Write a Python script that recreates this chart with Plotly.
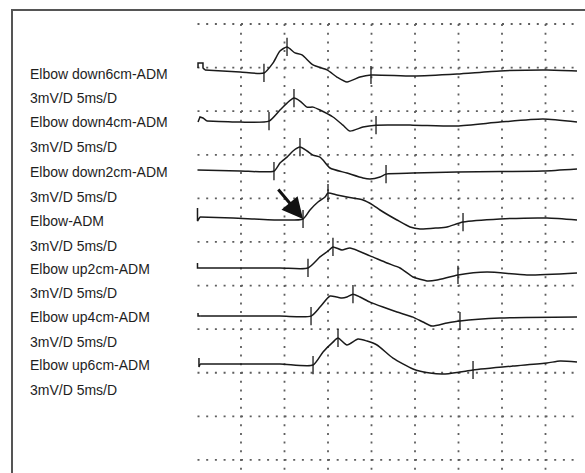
import plotly.graph_objects as go

# ---- data (time in ms, amplitude in mV relative to each trace's baseline) ----
labels = ["Elbow down6cm-ADM", "Elbow down4cm-ADM", "Elbow down2cm-ADM", "Elbow-ADM",
          "Elbow up2cm-ADM", "Elbow up4cm-ADM", "Elbow up6cm-ADM"]
gain_label = "3mV/D 5ms/D"
baseline_mv = [-3.37, -6.68, -10.12, -13.49, -16.79, -20.10, -23.40]

t1 = [0.86, 4.9, 7.64, 8.68, 9.48, 10.29, 11.21, 12.01, 13.28, 14.89, 16.03, 17.18, 18.68, 19.94, 24.77, 29.83, 34.77, 40.17, 43.62]
a1 = [0.21, 0.07, 0.0, 0.69, 1.51, 1.79, 1.38, 1.24, 0.55, 0.21, -0.28, -0.62, -0.28, -0.14, -0.21, -0.07, 0.14, 0.21, 0.14]
t2 = [1.09, 4.89, 8.22, 9.48, 10.29, 11.09, 11.78, 12.59, 13.28, 14.08, 15.57, 16.72, 17.53, 19.02, 20.52, 24.77, 29.83, 34.77, 39.71, 43.62]
a2 = [0.0, -0.07, 0.0, 0.76, 1.24, 1.58, 1.38, 0.96, 0.96, 0.76, 0.28, -0.28, -0.69, -0.41, -0.28, -0.28, -0.34, -0.07, 0.14, -0.07]
t3 = [0.0, 4.89, 8.79, 9.48, 10.29, 10.98, 11.78, 12.59, 13.28, 14.08, 14.43, 15.23, 17.18, 19.02, 19.83, 20.98, 21.67, 24.77, 29.83, 34.77, 39.71, 43.62]
a3 = [0.07, 0.0, 0.0, 0.55, 0.96, 1.38, 1.65, 1.38, 1.10, 0.96, 0.76, 0.21, -0.14, -0.48, -0.55, -0.41, -0.21, -0.14, -0.07, -0.03, 0.0, 0.14]
t4 = [0.29, 4.08, 9.48, 12.13, 12.93, 13.85, 14.66, 15.0, 16.03, 17.18, 19.02, 20.17, 20.98, 22.93, 24.43, 25.57, 27.53, 28.68, 30.52, 34.77, 40.17, 43.62]
a4 = [0.21, 0.14, 0.0, 0.07, 0.69, 1.24, 1.58, 1.86, 1.72, 1.58, 1.38, 1.03, 0.69, 0.0, -0.48, -0.62, -0.55, -0.48, -0.14, 0.07, 0.14, 0.0]
t5 = [0.17, 9.48, 12.70, 14.08, 15.0, 15.57, 16.61, 17.53, 19.83, 21.78, 23.28, 24.77, 26.38, 27.53, 29.94, 33.28, 37.87, 43.62]
a5 = [0.0, 0.0, 0.0, 0.76, 1.17, 1.45, 1.24, 1.38, 0.83, 0.34, 0.0, -0.62, -0.89, -0.83, -0.48, -0.28, -0.48, -0.34]
t6 = [0.3, 9.48, 13.05, 14.08, 15.23, 16.03, 16.61, 17.18, 17.87, 18.68, 19.83, 21.32, 22.93, 24.77, 25.92, 26.95, 28.68, 30.17, 34.77, 43.62]
a6 = [0.0, 0.0, 0.0, 0.62, 1.38, 1.31, 1.24, 1.31, 1.51, 1.31, 0.96, 0.62, 0.28, -0.07, -0.41, -0.69, -0.48, -0.34, -0.14, -0.07]
t7 = [0.3, 9.48, 13.28, 14.43, 15.57, 16.15, 17.18, 18.45, 19.48, 20.63, 22.47, 24.77, 26.72, 28.22, 30.17, 31.67, 36.26, 40.17, 41.67, 43.62]
a7 = [0.0, 0.0, -0.07, 0.83, 1.51, 1.79, 1.31, 1.72, 1.58, 1.31, 0.41, -0.34, -0.62, -0.69, -0.55, -0.41, -0.14, 0.07, 0.21, 0.14]
series_t = [t1, t2, t3, t4, t5, t6, t7]
series_a = [a1, a2, a3, a4, a5, a6, a7]

# stimulus artifacts at the start of each sweep
art_t = [[0.06, 0.06, 0.63, 0.63, 0.86], [0.06, 0.29, 0.63, 1.09], [0.0, 0.0],
         [0.0, 0.0, 0.29], [0.0, 0.0, 0.17], [0.06, 0.06, 0.3], [0.17, 0.17, 0.3]]
art_a = [[0.34, 0.69, 0.69, 0.34, 0.21], [-0.07, 0.28, 0.21, 0.0], [0.07, 0.07],
         [0.83, -0.07, 0.21], [0.34, 0.0, 0.0], [0.21, 0.0, 0.0], [0.41, -0.21, 0.0]]

# cursor marks: onset, peak, end (ms)
mark_t = [[7.64, 10.29, 19.94], [8.22, 11.09, 20.52], [8.79, 11.78, 21.67], [12.13, 15.0, 30.52],
          [12.70, 15.57, 29.94], [13.05, 17.87, 30.17], [13.28, 16.15, 31.67]]
mark_a = [[0.0, 1.79, -0.14], [0.0, 1.58, -0.28], [0.0, 1.65, -0.21], [0.07, 1.86, -0.14],
          [0.0, 1.45, -0.48], [0.0, 1.51, -0.34], [-0.07, 1.79, -0.41]]

ms_per_div = 5
mv_per_div = 3
n_vdiv = 8
n_hdiv = 10
sweep_end = 43.62

W, H = 585, 473
x_range = [-22.70, 44.54]
y_range = [-30.90, 1.652]

ink = "#1a1a1a"
grid_col = "#5e5e5e"

fig = go.Figure()

for i in range(len(labels)):
    off = baseline_mv[i]
    fig.add_trace(go.Scatter(x=art_t[i], y=[v + off for v in art_a[i]], mode="lines",
                             line=dict(color=ink, width=1.5), hoverinfo="skip", showlegend=False))
    fig.add_trace(go.Scatter(x=series_t[i], y=[v + off for v in series_a[i]], mode="lines",
                             line=dict(color=ink, width=1.5, shape="spline", smoothing=0.6),
                             hoverinfo="skip", showlegend=False))
    fig.add_trace(go.Scatter(x=mark_t[i], y=[v + off for v in mark_a[i]], mode="markers",
                             marker=dict(symbol="line-ns", size=13, line=dict(color=ink, width=1.3)),
                             hoverinfo="skip", showlegend=False))

# dotted grid
for k in range(1, n_vdiv + 1):
    fig.add_shape(type="line", x0=k * ms_per_div, x1=k * ms_per_div, y0=0, y1=y_range[0] - 1,
                  xref="x", yref="y", line=dict(color=grid_col, width=1.8, dash="2px,6.7px"), layer="below")
for k in range(0, n_hdiv + 1):
    fig.add_shape(type="line", x0=0, x1=sweep_end, y0=-k * mv_per_div, y1=-k * mv_per_div,
                  xref="x", yref="y", line=dict(color=grid_col, width=1.8, dash="2px,6.7px"), layer="below")

# frame (only left and top edges visible in the crop)
fig.add_shape(type="rect", x0=12 / W, x1=1.02, y0=-0.02, y1=1 - 10 / H, xref="paper", yref="paper",
              line=dict(color="#555555", width=2))

# labels
for i, lab in enumerate(labels):
    for text, shift in ((lab, -1), (gain_label, -25.5)):
        fig.add_annotation(x=28 / W, xref="paper", y=baseline_mv[i], yref="y", text=text,
                           showarrow=False, xanchor="left", yanchor="middle", yshift=shift,
                           font=dict(family="Liberation Sans, Arial, sans-serif", size=14, color="#1e1e1e"))

# arrow at the Elbow-ADM onset
fig.add_annotation(x=mark_t[3][0], y=mark_a[3][0] + baseline_mv[3], xref="x", yref="y", text="",
                   showarrow=True, ax=-26, ay=-31, arrowhead=2, arrowsize=1.4, arrowwidth=3,
                   arrowcolor="#111111", standoff=0)

fig.update_layout(width=W, height=H, margin=dict(l=0, r=0, t=0, b=0), autosize=False,
                  plot_bgcolor="white", paper_bgcolor="white",
                  xaxis=dict(range=x_range, visible=False, fixedrange=True),
                  yaxis=dict(range=y_range, visible=False, fixedrange=True))

fig.write_html("out.html", config={"displayModeBar": False},
               post_script="document.body.style.margin='0';document.body.style.overflow='hidden';")
